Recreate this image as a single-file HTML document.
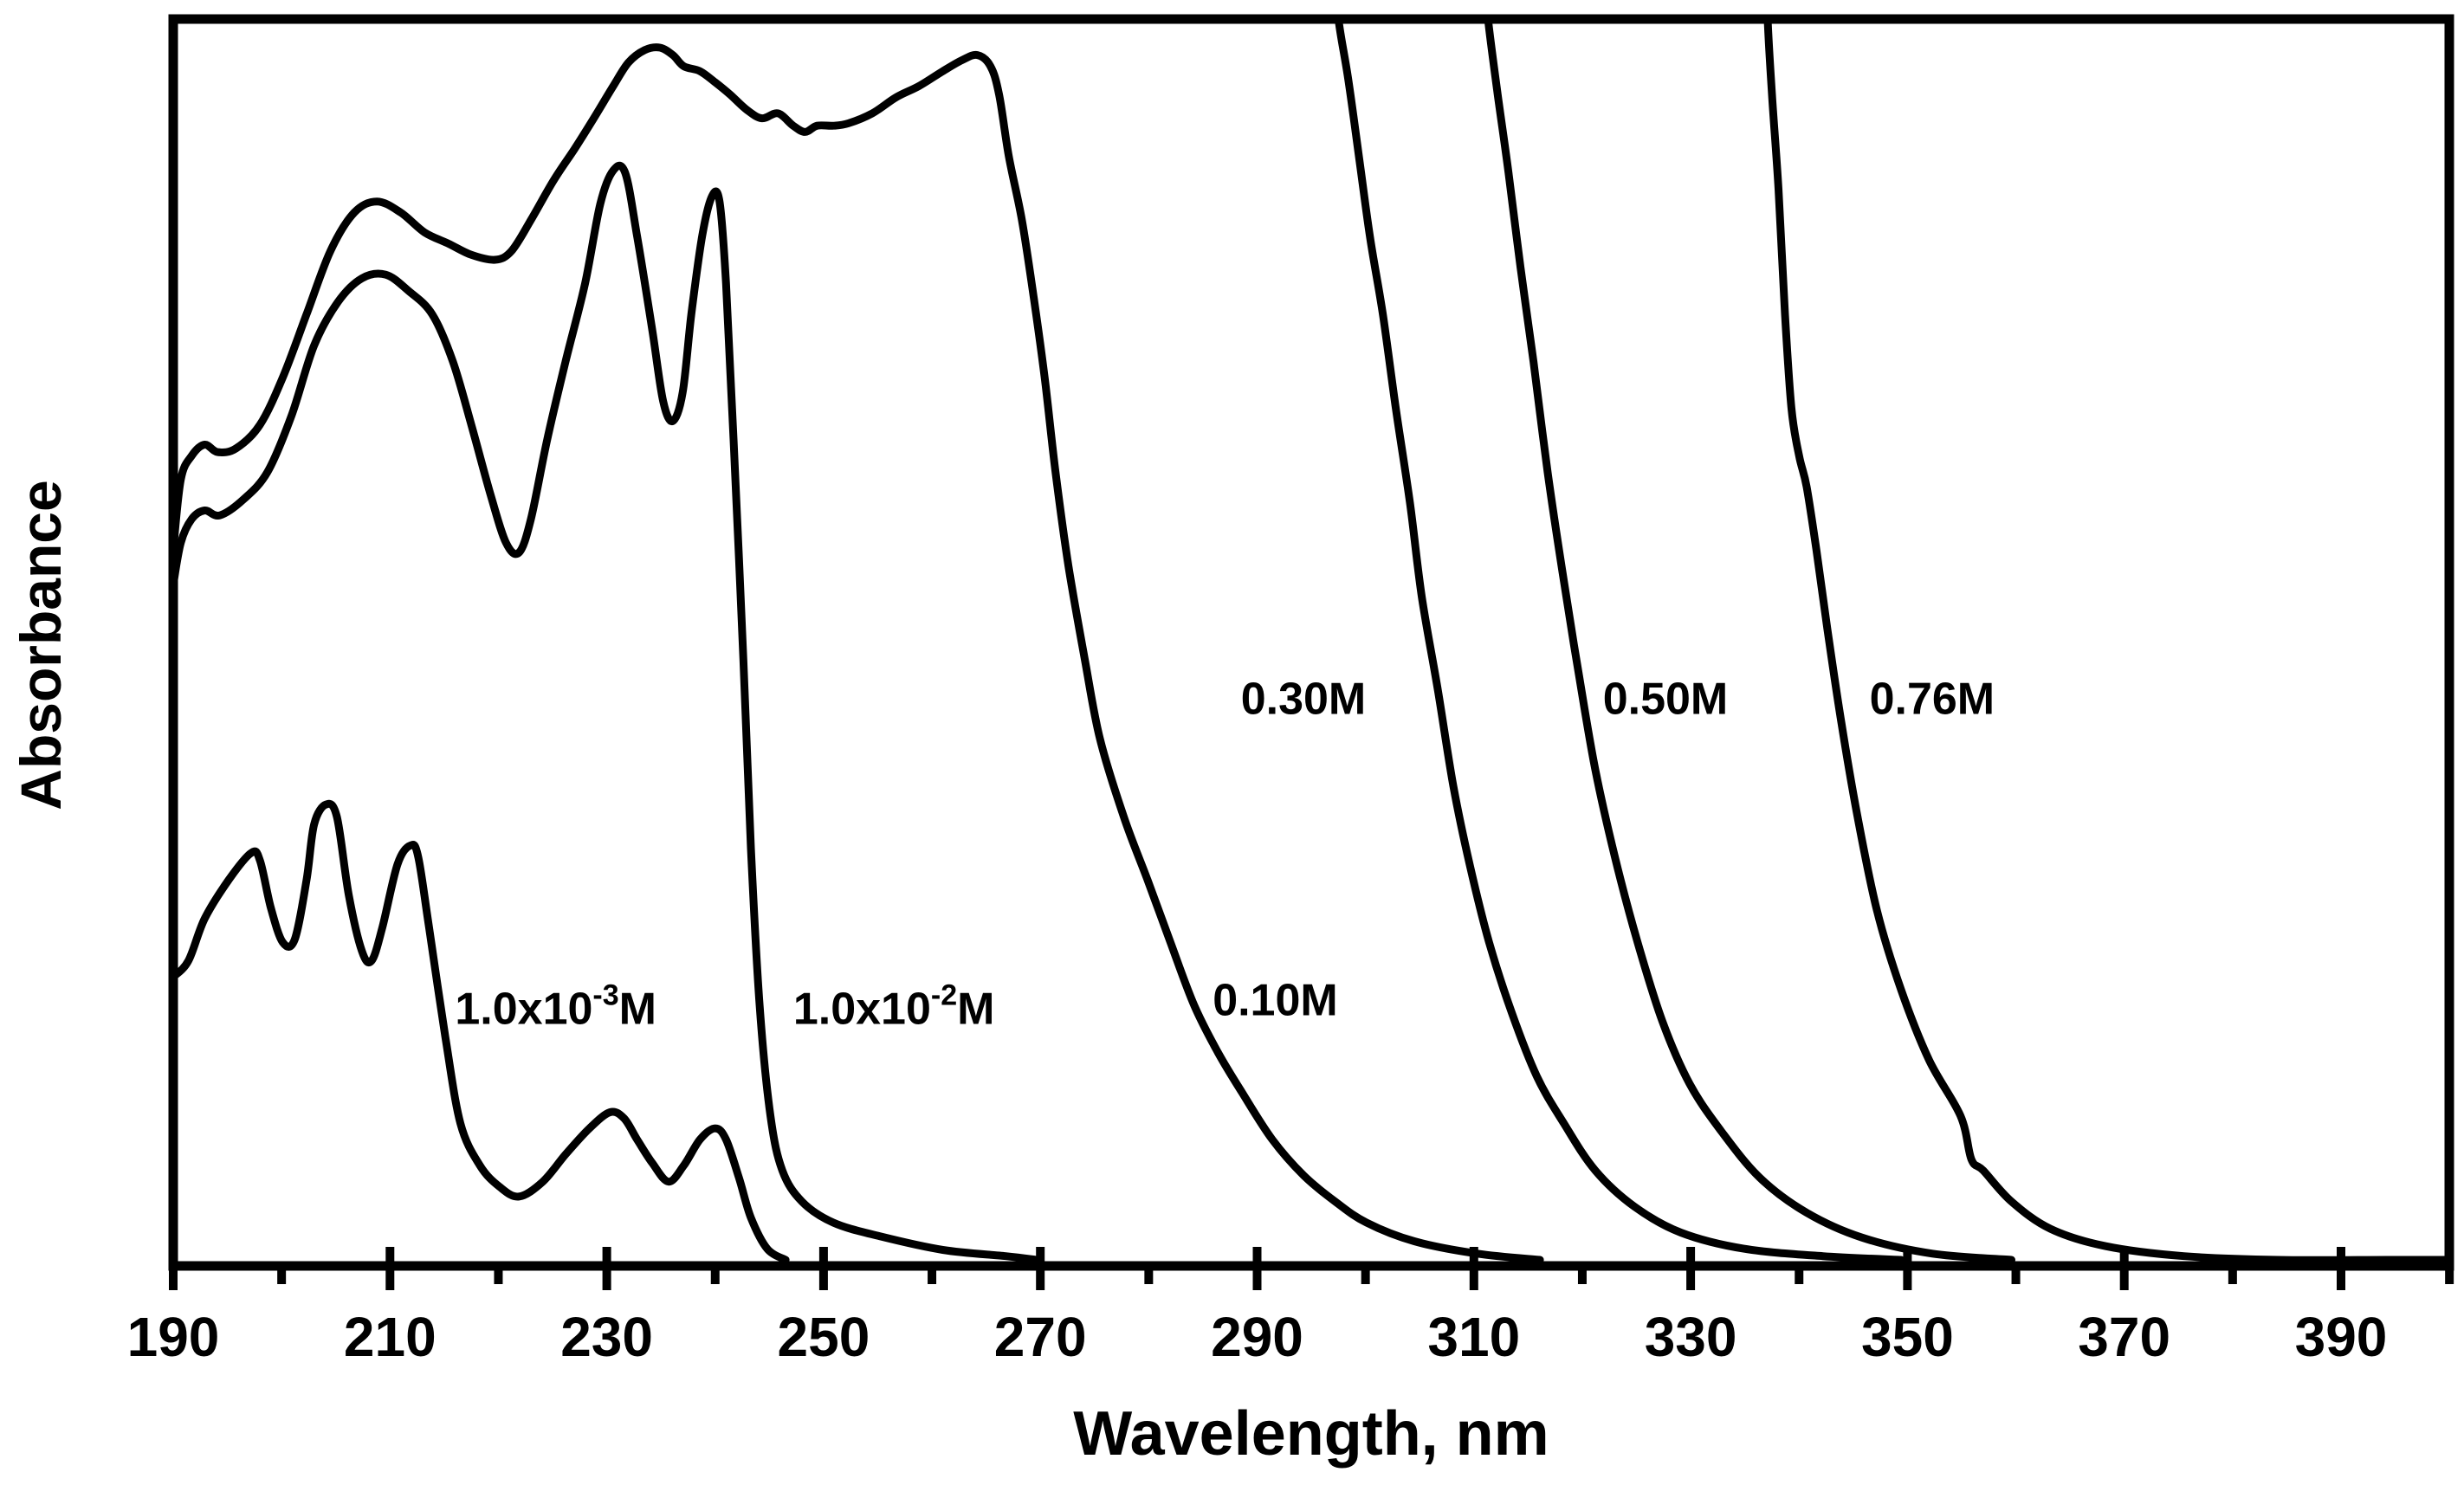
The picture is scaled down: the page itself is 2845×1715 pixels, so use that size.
<!DOCTYPE html>
<html><head><meta charset="utf-8"><style>
html,body{margin:0;padding:0;background:#fff;}
svg{display:block;font-family:"Liberation Sans",sans-serif;font-weight:bold;}
</style></head><body>
<svg id="chart" width="2845" height="1715" viewBox="0 0 2845 1715" xmlns="http://www.w3.org/2000/svg">
<defs><clipPath id="plotclip"><rect x="200" y="22" width="2628" height="1440"/></clipPath></defs>
<g id="curves" clip-path="url(#plotclip)"></g>
<g id="axes"></g>
<g id="labels"></g>
<text x="1514" y="1680" font-size="72" text-anchor="middle">Wavelength, nm</text>
<text transform="translate(70,745) rotate(-90)" font-size="66" text-anchor="middle">Absorbance</text>
</svg>
<script>
const xTicks = [190,210,230,250,270,290,310,330,350,370,390];
const minorTicks = [200,220,240,260,280,300,320,340,360,380,400];
const seriesNames = ["1.0x10-3M","1.0x10-2M","0.10M","0.30M","0.50M","0.76M"];
const wl1 = [190,191.4,192.9,195.1,197.2,198.0,199.0,200.1,201.2,202.3,203.0,204.1,205.1,206.2,207.4,208.3,209.3,210.7,211.9,212.6,213.6,215.1,216.5,218.3,220.1,221.9,224.1,226.2,228.4,230.3,231.6,232.8,234.2,235.7,237.1,238.6,240.0,241.0,242.2,243.3,244.8,246.5];
const abs1 = [.228,.241,.275,.306,.328,.322,.284,.256,.258,.306,.351,.367,.357,.294,.249,.241,.268,.319,.334,.325,.268,.180,.110,.076,.059,.051,.063,.085,.106,.119,.114,.097,.078,.063,.076,.097,.106,.097,.066,.034,.009,0];
const wl2 = [190,190.7,191.7,192.9,194.3,196.5,198.7,200.9,203.0,205.2,207.4,209.6,211.7,213.9,215.8,217.5,219.3,220.7,221.9,223.0,224.5,226.2,228.0,229.4,230.6,231.7,232.8,234.2,235.2,236.1,237.0,237.8,238.8,239.7,240.4,241.0,241.7,242.6,243.3,244.1,245.1,246.2,248.0,250.9,255.2,261.0,266.8,269.7];
const abs2 = [.544,.578,.597,.604,.600,.613,.635,.680,.737,.772,.791,.794,.781,.762,.724,.673,.616,.578,.570,.597,.661,.724,.787,.851,.878,.876,.825,.749,.692,.676,.699,.762,.825,.857,.853,.787,.661,.484,.332,.205,.116,.072,.047,.030,.019,.008,.003,0];
const wl3 = [190,190.7,191.7,192.9,194.1,195.8,198.0,200.1,202.3,204.5,206.7,208.8,211.0,213.2,215.4,217.5,219.7,221.2,223.0,225.1,227.0,228.8,230.6,232.0,233.5,234.9,236.1,237.1,238.6,240.0,241.4,242.9,244.3,245.8,247.2,248.3,249.4,250.9,252.3,254.5,256.7,258.8,261.0,262.8,264.2,265.4,266.2,267.1,268.3,269.4,270.4,271.4,272.6,274.1,275.5,277.7,279.9,282.0,284.2,286.4,288.6,291.4,294.3,297.2,300.1,304.5,310.3,316.1];
const abs3 = [.572,.629,.648,.657,.651,.654,.673,.711,.762,.813,.844,.853,.844,.828,.819,.810,.806,.813,.838,.870,.895,.920,.946,.965,.975,.977,.971,.962,.958,.949,.939,.927,.920,.924,.914,.909,.914,.914,.916,.924,.937,.946,.958,.967,.971,.962,.939,.889,.838,.775,.711,.635,.559,.484,.420,.357,.306,.256,.205,.167,.135,.097,.068,.047,.030,.015,.005,0];
const wl4 = [297.0,297.5,298.4,299.4,300.4,301.6,302.8,304.1,305.2,306.7,308.1,309.6,311.4,313.5,315.8,318.3,321.2,324.8,329.1,334.9,342.2,349.4];
const abs4 = [1.05,1.0,.952,.889,.825,.762,.686,.610,.534,.458,.382,.319,.256,.199,.148,.110,.072,.043,.022,.009,.003,0];
const wl5 = [310.8,311.3,312.2,313.2,314.3,315.5,316.8,318.3,319.7,321.2,323.0,325.1,327.4,329.9,332.8,336.4,340.7,345.8,352.3,359.6];
const abs5 = [1.05,1.0,.939,.876,.800,.724,.635,.547,.471,.395,.325,.256,.192,.142,.104,.066,.038,.018,.005,0];
const wl6 = [337.0,337.1,337.5,338.1,338.7,339.3,340.0,340.7,341.6,342.6,343.9,345.4,347.2,349.4,352.0,354.9,355.9,357.0,359.6,363.2,368.3,375.5,384.2,394.3,400];
const abs6 = [1.05,1.0,.939,.863,.762,.686,.648,.623,.572,.509,.433,.357,.281,.218,.161,.116,.081,.072,.047,.025,.011,.003,0,0,0];
const labelText = ["1.0x10","1.0x10","0.10M","0.30M","0.50M","0.76M"];
const labelWl = [216.0,247.2,285.9,288.5,321.9,346.5];
const labelAbs = [.190,.190,.197,.440,.440,.440];

const NS="http://www.w3.org/2000/svg";
function xs(v){return 200+(v-190)*12.515;}
function ys(a){return 1455-a*1433;}
function mk(tag,attrs,parent){const e=document.createElementNS(NS,tag);for(const k in attrs)e.setAttribute(k,attrs[k]);parent.appendChild(e);return e;}
function smooth(pts){
  let d="M"+pts[0][0].toFixed(1)+","+pts[0][1].toFixed(1);
  for(let i=0;i<pts.length-1;i++){
    const p0=pts[Math.max(i-1,0)],p1=pts[i],p2=pts[i+1],p3=pts[Math.min(i+2,pts.length-1)];
    const c1x=p1[0]+(p2[0]-p0[0])/6,c1y=p1[1]+(p2[1]-p0[1])/6;
    const c2x=p2[0]-(p3[0]-p1[0])/6,c2y=p2[1]-(p3[1]-p1[1])/6;
    d+="C"+c1x.toFixed(1)+","+c1y.toFixed(1)+" "+c2x.toFixed(1)+","+c2y.toFixed(1)+" "+p2[0].toFixed(1)+","+p2[1].toFixed(1);
  }
  return d;
}
const curves=document.getElementById('curves');
const allWl=[wl1,wl2,wl3,wl4,wl5,wl6], allAbs=[abs1,abs2,abs3,abs4,abs5,abs6];
const slug=["curve-1e-3m","curve-1e-2m","curve-0-10m","curve-0-30m","curve-0-50m","curve-0-76m"];
for(let s=0;s<allWl.length;s++){
  const pts=allWl[s].map((w,i)=>[xs(w),ys(allAbs[s][i])]);
  const p=mk('path',{d:smooth(pts),fill:"none",stroke:"#000","stroke-width":"9","stroke-linejoin":"round","stroke-linecap":"round"},curves);
  
  
}
const axes=document.getElementById('axes');
const frame=mk('rect',{x:200,y:22,width:2628,height:1440,fill:"none",stroke:"#000","stroke-width":"11"},axes);


xTicks.forEach(t=>{
  const l=mk('line',{x1:xs(t),x2:xs(t),y1:1440,y2:1490,stroke:"#000","stroke-width":"10"},axes);
  
  
  const tx=mk('text',{x:xs(t),y:1566,"font-size":"64","text-anchor":"middle"},axes);
  tx.textContent=t;
  
  
});
minorTicks.forEach(t=>{
  const l=mk('line',{x1:xs(t),x2:xs(t),y1:1462,y2:1483,stroke:"#000","stroke-width":"10"},axes);
  
  
});
const labels=document.getElementById('labels');
for(let i=0;i<labelText.length;i++){
  const t=mk('text',{x:xs(labelWl[i]),y:ys(labelAbs[i]),"font-size":"52"},labels);
  
  
  t.textContent=labelText[i];
  if(i<2){
    const sup=mk('tspan',{"font-size":"34",dy:"-22"},t);
    sup.textContent=(i==0?"-3":"-2");
    const m=mk('tspan',{dy:"22"},t);
    m.textContent="M";
  }
}
</script>
</body></html>
